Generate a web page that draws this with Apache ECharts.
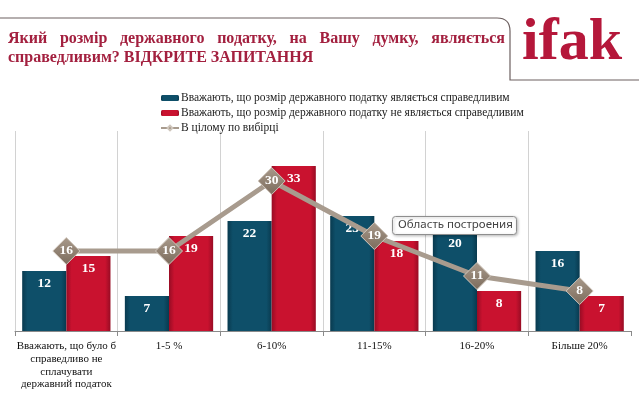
<!DOCTYPE html>
<html><head><meta charset="utf-8">
<script src="https://cdn.jsdelivr.net/npm/echarts@6/dist/echarts.min.js"></script>
<style>html,body{margin:0;padding:0;background:#fff}#c{width:639px;height:393px}</style>
</head><body><div id="c"></div>
<script>
const categories = ['Вважають, що було б\nсправедливо не\nсплачувати\nдержавний податок', '1-5 %', '6-10%', '11-15%', '16-20%', 'Більше 20%'];
const fairValues = [12, 7, 22, 23, 20, 16];
const unfairValues = [15, 19, 33, 18, 8, 7];
const totalValues = [16, 16, 30, 19, 11, 8];
const seriesNames = ['Вважають, що розмір державного податку являється справедливим', 'Вважають, що розмір державного податку не являється справедливим', 'В цілому по вибірці'];
const titleLine1 = 'Який розмір державного податку, на Вашу думку, являється';
const titleLine2 = 'справедливим? ВІДКРИТЕ ЗАПИТАННЯ';

const serif = '"Liberation Serif", "DejaVu Serif", serif';
const titleColor = '#a3203f';
const titleFont = 'bold 16px "Liberation Serif"';

// justify first title line
const cv = document.createElement('canvas').getContext('2d');
cv.font = titleFont;
const words = titleLine1.split(' ');
const wWidths = words.map(w => cv.measureText(w).width);
const lineStart = 8, lineEnd = 505;
const gap = (lineEnd - lineStart - wWidths.reduce((a, b) => a + b, 0)) / (words.length - 1);
const titleGraphics = [];
let cx = lineStart;
words.forEach((w, i) => {
  titleGraphics.push({type: 'text', left: cx, top: 31, style: {text: w, font: titleFont, fill: titleColor}});
  cx += wWidths[i] + gap;
});
titleGraphics.push({type: 'text', left: lineStart, top: 50, style: {text: titleLine2, font: titleFont, fill: titleColor}});

function vgrad(edge, base) {
  return new echarts.graphic.LinearGradient(0, 0, 1, 0, [
    {offset: 0, color: edge}, {offset: 0.12, color: base}, {offset: 0.88, color: base}, {offset: 1, color: edge}
  ]);
}

const splitColors = categories.map(() => '#d2d2d2').concat(['rgba(0,0,0,0)']);
const frameStyle = {stroke: '#6d6060', lineWidth: 1.2, fill: null};
const chart = echarts.init(document.getElementById('c'), null, {renderer: 'canvas'});
chart.setOption({
  animation: false,
  grid: {left: 15, right: 8, top: 131, bottom: 62},
  legend: {
    left: 155, top: 87, orient: 'vertical', itemWidth: 18, itemHeight: 6, itemGap: 3,
    textStyle: {fontFamily: serif, fontSize: 11.5, color: '#222', lineHeight: 12, padding: [0, 0, 0, -3]},
    data: seriesNames
  },
  xAxis: {
    type: 'category', data: categories,
    axisLine: {lineStyle: {color: '#8a8a8a'}},
    axisTick: {show: true, length: 5, lineStyle: {color: '#8a8a8a'}},
    splitLine: {show: true, lineStyle: {color: splitColors}},
    axisLabel: {fontFamily: serif, fontSize: 11, color: '#111', lineHeight: 12.7, margin: 9, interval: 0}
  },
  yAxis: {type: 'value', min: 0, max: 40, show: false, splitLine: {show: false}},
  graphic: [
    {type: 'polyline', shape: {points: [[0, 18], [497, 18]]}, style: frameStyle},
    {type: 'bezierCurve', shape: {x1: 497, y1: 18, x2: 510, y2: 31, cpx1: 510, cpy1: 18}, style: frameStyle},
    {type: 'polyline', shape: {points: [[510, 31], [510, 80], [639, 80]]}, style: frameStyle},
    {type: 'text', left: 522, top: 13, style: {text: 'ifak', font: 'bold 60px "Liberation Serif"', fill: '#b5173a'}},
    ...titleGraphics,
    {type: 'rect', z: 100, shape: {x: 392.5, y: 216.5, width: 124, height: 18, r: 3},
      style: {fill: '#ffffff', stroke: '#8e8e8e', lineWidth: 1, shadowBlur: 3, shadowOffsetX: 1, shadowOffsetY: 1, shadowColor: 'rgba(0,0,0,0.25)'}},
    {type: 'text', z: 101, left: 398, top: 219, style: {text: 'Область построения', font: '11.5px "Noto Sans"', fill: '#444'}}
  ],
  series: [
    {
      name: seriesNames[0], type: 'bar', data: fairValues, barGap: '0%', barCategoryGap: '14%',
      itemStyle: {color: vgrad('#093a4f', '#0e4f69')},
      label: {show: true, position: 'insideTop', distance: 6, color: '#fff', fontFamily: serif, fontWeight: 'bold', fontSize: 13.5}
    },
    {
      name: seriesNames[1], type: 'bar', data: unfairValues,
      itemStyle: {color: vgrad('#980c24', '#c9122f')},
      label: {show: true, position: 'insideTop', distance: 6, color: '#fff', fontFamily: serif, fontWeight: 'bold', fontSize: 13.5}
    },
    {
      name: seriesNames[2], type: 'line', data: totalValues, z: 5,
      lineStyle: {color: '#a89b8e', width: 5},
      symbol: 'diamond', symbolSize: [27, 27],
      itemStyle: {color: new echarts.graphic.LinearGradient(0, 0, 0, 1, [{offset: 0, color: '#a99a8b'}, {offset: 1, color: '#7b6b5c'}]), borderColor: '#cfc6bc', borderWidth: 1},
      label: {show: true, position: 'inside', color: '#fff', fontFamily: serif, fontWeight: 'bold', fontSize: 13.5}
    }
  ]
});
</script></body></html>
